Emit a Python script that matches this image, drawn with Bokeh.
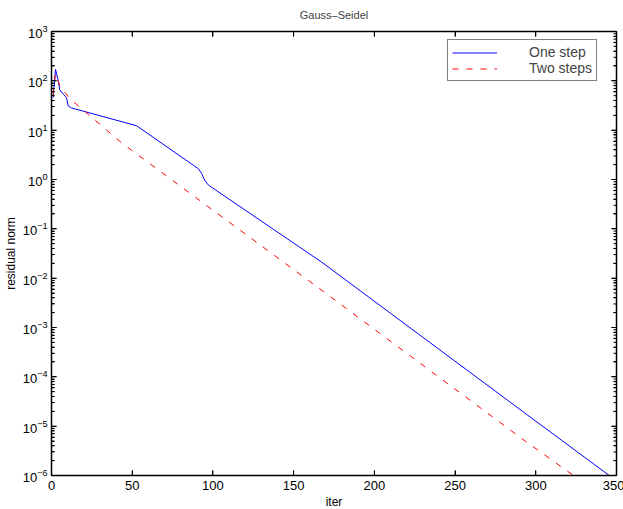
import math
from bokeh.plotting import figure
from bokeh.models import (LogAxis, LinearAxis, Legend, LegendItem, ColumnDataSource,
                          CustomJSTickFormatter, Title)
from bokeh.embed import file_html
from bokeh.resources import INLINE

# data
one_iter = [1, 2.5, 4.3, 5.1, 7.3, 9.3, 10.4, 12.4, 52.7, 91.1, 93.0, 94.9, 97.3, 167.4, 291.4, 345.5]
one_res = [45.7, 170, 95.5, 66.1, 53.7, 45.7, 30.9, 28.2, 12.3, 1.64, 1.32, 0.966, 0.766, 0.0211, 2.04e-5, 1.0e-6]
two_iter = [1, 2.4, 4.2, 6.2, 12.0, 43.4, 95.0, 159.2, 293.4, 323.4]
two_res = [52.5, 140, 95.5, 69.2, 41.7, 5.55, 0.315, 0.00897, 5.0e-6, 1.0e-6]

# axis tick positions
x_ticks = [0, 50, 100, 150, 200, 250, 300, 350]
y_major = [10.0 ** k for k in range(-6, 4)]
y_minor = [m * 10.0 ** k for k in range(-6, 3) for m in range(2, 10)]
X0, X1, Y0, Y1 = 0, 350, 1e-6, 1e3

FONT = "Liberation Sans"

p = figure(frame_width=565, frame_height=444,
           x_range=(X0, X1), y_range=(Y0, Y1), y_axis_type="log",
           output_backend="svg", toolbar_location=None,
           min_border_left=50, min_border_right=8, min_border_top=30, min_border_bottom=35)
p.title.visible = False
p.xgrid.visible = False
p.ygrid.visible = False
p.outline_line_color = "black"
p.outline_line_width = 1
p.background_fill_color = None
p.border_fill_color = "white"

s1 = ColumnDataSource(dict(x=one_iter, y=one_res))
s2 = ColumnDataSource(dict(x=two_iter, y=two_res))
r1 = p.line("x", "y", source=s1, line_color="#0000ff", line_width=1)
r2 = p.line("x", "y", source=s2, line_color="#ff0000", line_width=1, line_dash="6 8")

# inward tick marks on all four sides (box style)
tk = dict(line_color="black", line_width=1, length_units="screen")
p.ray(x=x_ticks, y=[Y0] * len(x_ticks), length=5, angle=math.pi / 2, **tk)
p.ray(x=x_ticks, y=[Y1] * len(x_ticks), length=5, angle=-math.pi / 2, **tk)
p.ray(x=[X0] * len(y_major), y=y_major, length=5, angle=0, **tk)
p.ray(x=[X1] * len(y_major), y=y_major, length=5, angle=math.pi, **tk)
p.ray(x=[X0] * len(y_minor), y=y_minor, length=3, angle=0, **tk)
p.ray(x=[X1] * len(y_minor), y=y_minor, length=3, angle=math.pi, **tk)

for ax in [p.xaxis[0], p.yaxis[0]]:
    ax.axis_line_color = "black"
    ax.axis_line_width = 1.5
    ax.major_tick_in = 5
    ax.major_tick_out = 0
    ax.minor_tick_in = 3
    ax.minor_tick_out = 0
    ax.major_tick_line_color = "black"
    ax.minor_tick_line_color = "black"
    ax.major_label_text_font = FONT
    ax.major_label_text_font_size = "13px"
    ax.major_label_text_color = "black"
    ax.axis_label_text_font = FONT
    ax.axis_label_text_font_size = "12px"
    ax.axis_label_text_font_style = "normal"
    ax.axis_label_text_color = "black"

p.xaxis.minor_tick_line_color = None
p.xaxis.axis_label = "iter"
p.xaxis.major_label_standoff = 5
p.xaxis.axis_label_standoff = 2
p.yaxis.axis_label = "residual norm"
p.yaxis.major_label_standoff = 4
p.yaxis.axis_label_standoff = 2

top = LinearAxis(formatter=CustomJSTickFormatter(code="return ''"), major_tick_in=5, major_tick_out=0,
                 major_tick_line_color="black",
                 minor_tick_line_color=None, axis_line_color="black", axis_line_width=1.5,
                 major_label_standoff=0, major_label_text_font_size="1px")
right = LogAxis(formatter=CustomJSTickFormatter(code="return ''"), major_tick_in=5, major_tick_out=0,
                major_tick_line_color="black",
                minor_tick_in=3, minor_tick_out=0, minor_tick_line_color="black",
                axis_line_color="black", axis_line_width=1.5,
                major_label_standoff=0, major_label_text_font_size="1px")
p.add_layout(top, "above")
p.add_layout(right, "right")
p.add_layout(Title(text="Gauss\u2013Seidel", align="center", text_font=FONT, text_font_size="11px",
                   text_font_style="normal", standoff=13), "above")

legend = Legend(items=[LegendItem(label="One step", renderers=[r1]),
                       LegendItem(label="Two steps", renderers=[r2])],
                location=(396, 394))
legend.label_text_font = FONT
legend.label_text_font_size = "14px"
legend.label_standoff = 32
legend.glyph_width = 45
legend.glyph_height = 13
legend.label_height = 13
legend.spacing = 0
legend.padding = 4
legend.margin = 0
legend.border_line_color = "black"
legend.border_line_width = 1.5
legend.background_fill_alpha = 1
p.add_layout(legend, "center")

open("out.html", "w").write(file_html(p, INLINE))
